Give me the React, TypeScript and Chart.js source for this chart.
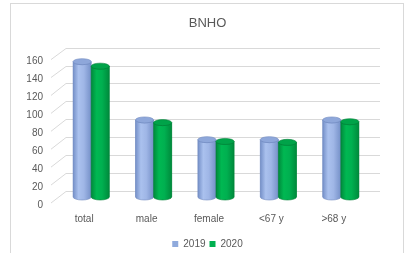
import React, { useEffect, useRef } from "react";
import { Chart, registerables } from "chart.js";

Chart.register(...registerables);

const categories = ["total", "male", "female", "<67 y", ">68 y"];
const seriesNames = ["2019", "2020"];
const values2019 = [151, 86, 64, 64, 86];
const values2020 = [146, 83, 62, 61, 84];
const yMin = 0;
const yMax = 160;
const yStep = 20;

const FONT = "'Liberation Sans', Arial, sans-serif";
const TEXT = "#595959";
const GRID = "#d9d9d9";

const palettes = [
  { dark: "#7590c8", mid: "#9fb6e6", light: "#aac1ee", top: "#8ea7da", edge: "#7089bf" },
  { dark: "#008a3c", mid: "#00b050", light: "#00b852", top: "#00a349", edge: "#007f37" },
];

const BACK_DX = 6;
const BACK_DY = -6;
const FRONT_DY = 6;
const FRONT_X = 51;
const BACK_RIGHT_EXTRA = 8;

const wallPlugin = {
  id: "wall3d",
  beforeDatasetsDraw(chart: any) {
    const { ctx, chartArea, scales } = chart;
    const y = scales.y;
    ctx.save();
    ctx.strokeStyle = GRID;
    ctx.lineWidth = 1;
    for (let v = yMin; v <= yMax; v += yStep) {
      const p = y.getPixelForValue(v);
      const yb = Math.round(p + BACK_DY) + 0.5;
      const yf = p + FRONT_DY;
      const xb = chartArea.left + BACK_DX;
      ctx.beginPath();
      ctx.moveTo(FRONT_X, yf);
      ctx.lineTo(xb, yb);
      ctx.lineTo(chartArea.right + BACK_RIGHT_EXTRA, yb);
      ctx.stroke();
    }
    ctx.restore();
  },
};

const cylinderPlugin = {
  id: "cylinders",
  afterDatasetsDraw(chart: any) {
    const { ctx } = chart;
    const n = categories.length;
    for (let i = 0; i < n; i++) {
      chart.data.datasets.forEach((ds: any, di: number) => {
        const meta = chart.getDatasetMeta(di);
        const el = meta.data[i];
        if (!el) return;
        const pal = palettes[di];
        const { x, y, base, width } = el.getProps(["x", "y", "base", "width"], true);
        const rx = width / 2;
        const ry = 3;
        const left = x - rx;
        const right = x + rx;
        ctx.save();
        const g = ctx.createLinearGradient(left, 0, right, 0);
        g.addColorStop(0, pal.dark);
        g.addColorStop(0.3, pal.light);
        g.addColorStop(0.6, pal.mid);
        g.addColorStop(1, pal.dark);
        ctx.beginPath();
        ctx.moveTo(left, y);
        ctx.lineTo(left, base);
        ctx.ellipse(x, base, rx, ry, 0, Math.PI, 0, true);
        ctx.lineTo(right, y);
        ctx.ellipse(x, y, rx, ry, 0, 0, Math.PI, false);
        ctx.closePath();
        ctx.fillStyle = g;
        ctx.fill();
        ctx.strokeStyle = pal.edge;
        ctx.lineWidth = 0.6;
        ctx.stroke();
        ctx.beginPath();
        ctx.ellipse(x, y, rx, ry, 0, 0, Math.PI * 2);
        ctx.fillStyle = pal.top;
        ctx.fill();
        ctx.strokeStyle = pal.edge;
        ctx.lineWidth = 0.6;
        ctx.stroke();
        ctx.restore();
      });
    }
  },
};

export default function App() {
  const ref = useRef<HTMLCanvasElement | null>(null);
  useEffect(() => {
    if (!ref.current) return;
    const chart = new Chart(ref.current, {
      type: "bar",
      data: {
        labels: categories,
        datasets: [
          { label: seriesNames[0], data: values2019, backgroundColor: "#8faadc", borderWidth: 0 },
          { label: seriesNames[1], data: values2020, backgroundColor: "#00b050", borderWidth: 0 },
        ],
      },
      options: {
        responsive: false,
        animation: false,
        devicePixelRatio: 1,
        datasets: { bar: { categoryPercentage: 0.58, barPercentage: 1.0 } },
        layout: { padding: { left: 4, right: 0, top: 0, bottom: -6 } },
        plugins: {
          title: {
            display: true,
            text: "BNHO",
            color: TEXT,
            font: { family: FONT, size: 13, weight: "normal" },
            padding: { top: 16, bottom: 22 },
          },
          legend: {
            position: "bottom",
            labels: {
              boxWidth: 6,
              boxHeight: 6,
              color: TEXT,
              font: { family: FONT, size: 10 },
              padding: 4,
            },
          },
          tooltip: { enabled: false },
        },
        scales: {
          x: {
            grid: { display: false },
            border: { display: false },
            ticks: { color: TEXT, font: { family: FONT, size: 10 }, labelOffset: -7, padding: 8 },
            afterFit: (s: any) => { s.height = 38; },
          },
          y: {
            min: yMin,
            max: yMax,
            grid: { display: false },
            border: { display: false },
            ticks: {
              stepSize: yStep,
              color: TEXT,
              font: { family: FONT, size: 10 },
              padding: 9,
              labelOffset: 8,
            },
            afterFit: (s: any) => { s.width = 56; },
          },
          yRight: {
            position: "right",
            min: yMin,
            max: yMax,
            grid: { display: false },
            border: { display: false },
            ticks: { display: false },
            afterFit: (s: any) => { s.width = 39; },
          },
        },
      },
      plugins: [wallPlugin, cylinderPlugin],
    } as any);
    return () => chart.destroy();
  }, []);
  return (
    <div style={{ position: "fixed", left: 0, top: 0, width: 411, height: 253, background: "#fff", overflow: "hidden" }}>
      <div style={{ position: "absolute", left: 10, top: 3, width: 392, height: 270, border: `1px solid ${GRID}` }} />
      <canvas ref={ref} width={411} height={253} style={{ position: "absolute", left: 0, top: 0 }} />
    </div>
  );
}
